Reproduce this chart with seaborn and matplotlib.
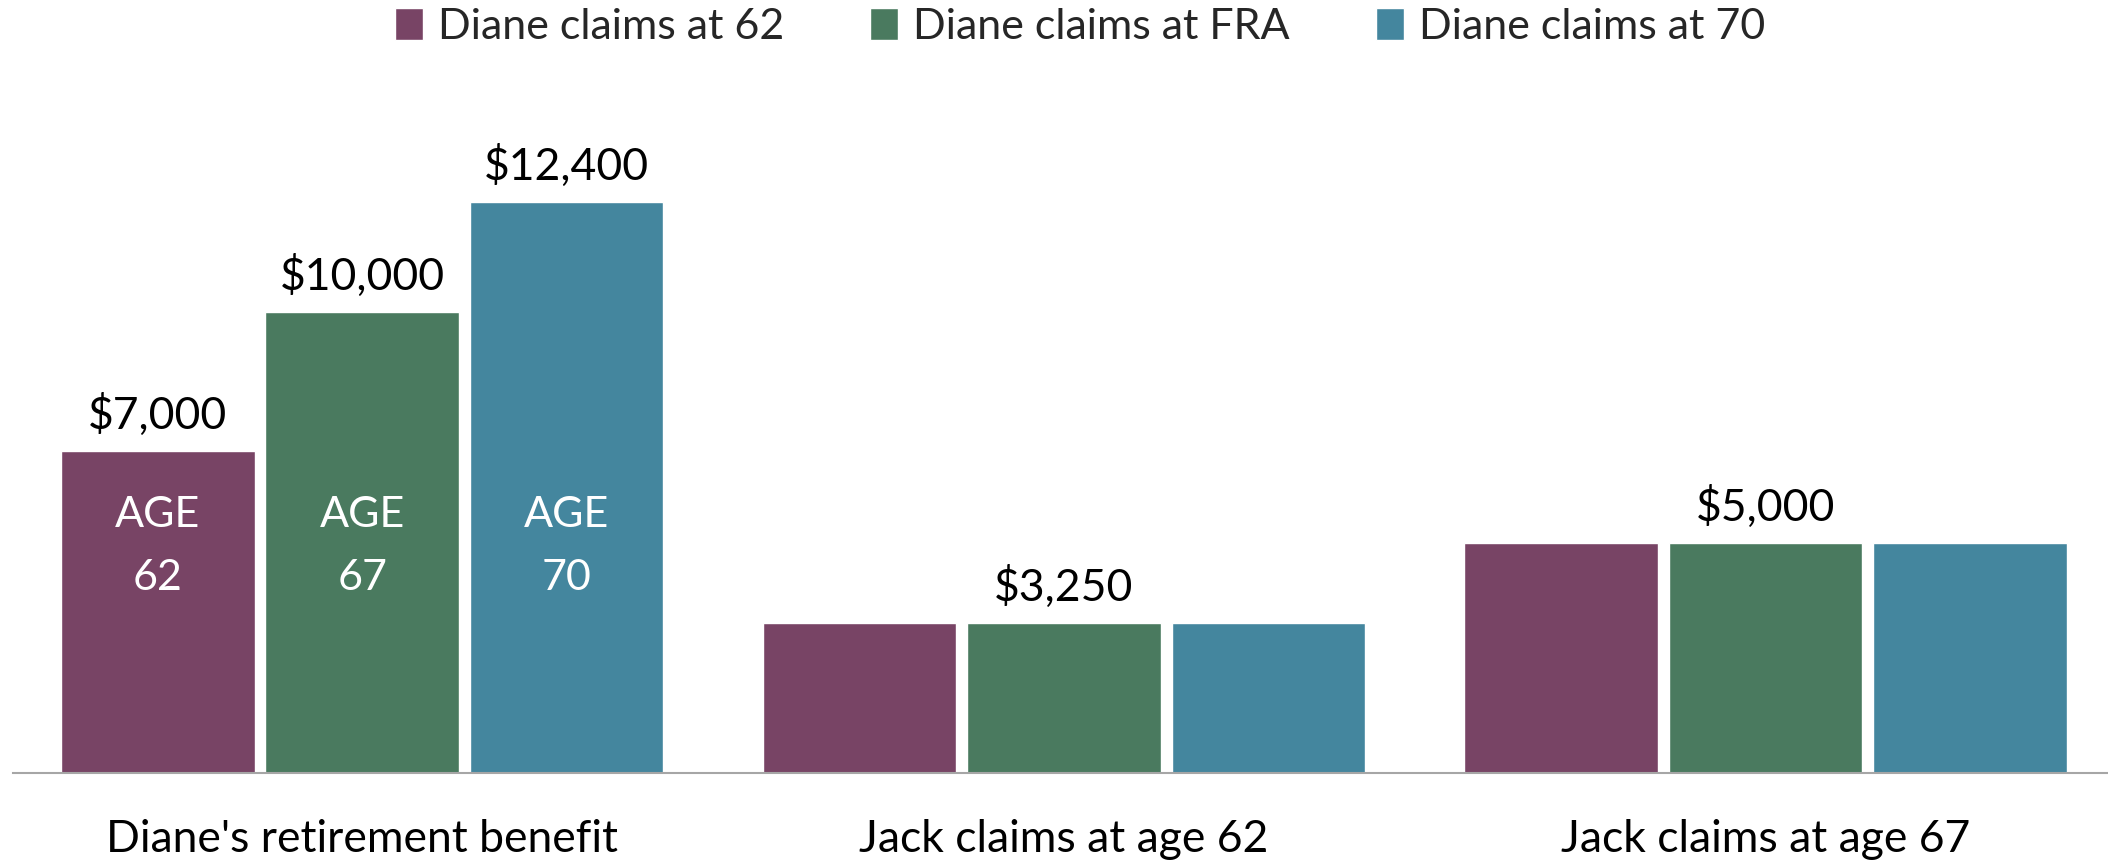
import matplotlib
matplotlib.use("Agg")
import matplotlib.pyplot as plt
import seaborn as sns
import pandas as pd

sns.set_theme(style="white")
plt.rcParams['font.family'] = ['Lato', 'DejaVu Sans']

grupet = ["Diane's retirement benefit", "Jack claims at age 62", "Jack claims at age 67"]
seriet = ["Diane claims at 62", "Diane claims at FRA", "Diane claims at 70"]
vlerat_62 = [7000, 3250, 5000]
vlerat_fra = [10000, 3250, 5000]
vlerat_70 = [12400, 3250, 5000]
moshat = ["62", "67", "70"]
ngjyrat = ["#784465", "#4A7A5F", "#44869E"]

df = pd.DataFrame({
    "Grupi": grupet * 3,
    "Seria": [s for s in seriet for _ in grupet],
    "Vlera": vlerat_62 + vlerat_fra + vlerat_70,
})

fig = plt.figure(figsize=(21.08, 8.61), dpi=100)
ax = fig.add_axes([0.0064, 0.1022, 0.9936, 14000 * 0.04607 / 861])

sns.barplot(data=df, x="Grupi", y="Vlera", hue="Seria", palette=ngjyrat,
            width=0.874, gap=0.053, saturation=1, ax=ax, legend=True)

ax.set_ylim(0, 14000)
ax.set_xlim(-0.497, 2.488)
ax.set_xlabel("")
ax.set_ylabel("")
ax.set_yticks([])
for s in ["top", "right", "left"]:
    ax.spines[s].set_visible(False)
ax.spines["bottom"].set_color("#A6A6A6")
ax.spines["bottom"].set_linewidth(1.5)
ax.tick_params(axis="x", length=0, pad=33, labelsize=32, colors="black")

# etiketat e vlerave: te gjitha per Diane, vetem mesi per Jack
for i, cont in enumerate(ax.containers):
    etiketat = []
    for j, bar in enumerate(cont):
        if j == 0 or i == 1:
            etiketat.append(f"${df['Vlera'][i * 3 + j]:,.0f}")
        else:
            etiketat.append("")
    ax.bar_label(cont, labels=etiketat, padding=10, fontsize=32, color="black")

# teksti brenda shtyllave te Diane
for i, cont in enumerate(ax.containers):
    bar = cont[0]
    xc = bar.get_x() + bar.get_width() / 2
    ax.text(xc, 5600, "AGE", ha="center", va="center", color="white", fontsize=31)
    ax.text(xc, 4230, moshat[i], ha="center", va="center", color="white", fontsize=31)

leg = ax.legend(loc="center", bbox_to_anchor=(1080 / 2108, 1 - 27 / 861),
                bbox_transform=fig.transFigure, ncol=3, frameon=False,
                fontsize=31, handlelength=0.65, handleheight=0.75,
                handletextpad=0.35, columnspacing=2.0)

fig.savefig("out.png", dpi=100)
